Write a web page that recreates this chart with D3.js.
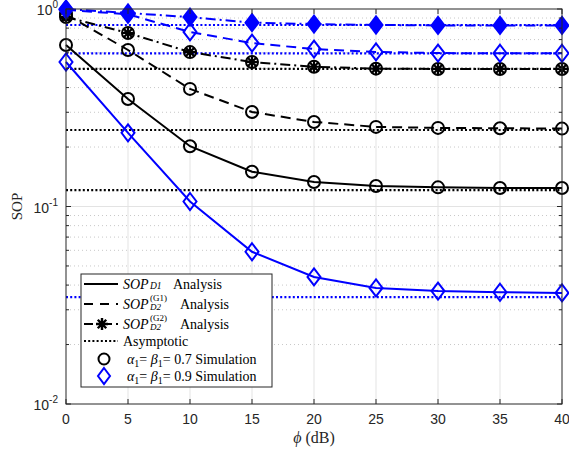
<!DOCTYPE html>
<html>
<head>
<meta charset="utf-8">
<script src="https://cdn.jsdelivr.net/npm/d3@7"></script>
<style>
  html, body { margin: 0; padding: 0; background: #fff; }
  svg { display: block; }
  .sans { font-family: "Liberation Sans", Arial, Helvetica, sans-serif; }
  .serif { font-family: "Liberation Serif", "DejaVu Serif", serif; }
</style>
</head>
<body>
<svg id="chart" width="569" height="450"></svg>
<script>
// Secrecy outage probability versus phi (dB)
const phi = [0, 5, 10, 15, 20, 25, 30, 35, 40];

// alpha1 = beta1 = 0.7
const sopD1_a07   = [0.657, 0.350, 0.202, 0.150, 0.133, 0.127, 0.125, 0.124, 0.124];
const sopG1_a07   = [0.94, 0.620, 0.394, 0.301, 0.268, 0.253, 0.250, 0.249, 0.248];
const sopG2_a07   = [0.91, 0.756, 0.605, 0.539, 0.510, 0.499, 0.497, 0.497, 0.497];

// alpha1 = beta1 = 0.9
const sopD1_a09   = [0.539, 0.236, 0.106, 0.059, 0.044, 0.0387, 0.0373, 0.0368, 0.0365];
const sopG1_a09   = [0.99, 0.94, 0.765, 0.672, 0.627, 0.606, 0.598, 0.597, 0.597];
const sopG2_a09   = [1.0, 0.955, 0.91, 0.853, 0.839, 0.830, 0.826, 0.826, 0.826];

// asymptotic floors
const asymBlack = [0.497, 0.244, 0.121];
const asymBlue  = [0.830, 0.596, 0.0348];

const xTicks = [0, 5, 10, 15, 20, 25, 30, 35, 40];
const yDecades = [-2, -1, 0];

const svg = d3.select("#chart");
const pL = 66, pR = 562, pT = 9, pB = 404;

const x = d3.scaleLinear().domain([0, 40]).range([pL, pR]);
const y = d3.scaleLog().domain([0.01, 1]).range([pB, pT]);

const BLUE = "#0000ff";
const AXIS = "#262626";

// grid
const grid = svg.append("g");
const minor = [];
for (let d = -2; d < 0; d++) for (let k = 2; k <= 9; k++) minor.push(k * Math.pow(10, d));
grid.selectAll("line.minor").data(minor).join("line")
  .attr("x1", pL).attr("x2", pR)
  .attr("y1", d => y(d)).attr("y2", d => y(d))
  .attr("stroke", "#c8c8c8").attr("stroke-width", 1).attr("stroke-dasharray", "1,3");
grid.selectAll("line.maj").data([0.1]).join("line")
  .attr("x1", pL).attr("x2", pR)
  .attr("y1", d => y(d)).attr("y2", d => y(d))
  .attr("stroke", "#e3e3e3").attr("stroke-width", 1);
grid.selectAll("line.vx").data(xTicks.slice(1, -1)).join("line")
  .attr("x1", d => x(d)).attr("x2", d => x(d))
  .attr("y1", pT).attr("y2", pB)
  .attr("stroke", "#e3e3e3").attr("stroke-width", 1);

// asymptotes
const asym = svg.append("g");
function hline(v, color) {
  asym.append("line")
    .attr("x1", pL).attr("x2", pR)
    .attr("y1", y(v)).attr("y2", y(v))
    .attr("stroke", color).attr("stroke-width", 2.2).attr("stroke-dasharray", "2,2.2");
}
asymBlack.forEach(v => hline(v, "#000"));
asymBlue.forEach(v => hline(v, BLUE));

// curves
const line = d3.line().x((d, i) => x(phi[i])).y(d => y(d));
const curves = svg.append("g");
function curve(vals, color, dash) {
  curves.append("path").datum(vals)
    .attr("d", line).attr("fill", "none")
    .attr("stroke", color).attr("stroke-width", 2)
    .attr("stroke-dasharray", dash);
}
const DASH = "10,6", DASHDOT = "10,4,2,4";
curve(sopD1_a07, "#000", null);
curve(sopG1_a07, "#000", DASH);
curve(sopG2_a07, "#000", DASHDOT);
curve(sopD1_a09, BLUE, null);
curve(sopG1_a09, BLUE, DASH);
curve(sopG2_a09, BLUE, DASHDOT);

// markers
const mk = svg.append("g");
function star(r) {
  let p = "";
  for (let a = 0; a < 4; a++) {
    const t = a * Math.PI / 4;
    const dx = r * Math.cos(t), dy = r * Math.sin(t);
    p += `M${-dx},${-dy}L${dx},${dy}`;
  }
  return p;
}
const diamond = (w, h) => `M0,${-h}L${w},0L0,${h}L${-w},0Z`;
function circles(vals) {
  mk.selectAll(null).data(vals).join("circle")
    .attr("cx", (d, i) => x(phi[i])).attr("cy", d => y(d)).attr("r", 6)
    .attr("fill", "none").attr("stroke", "#000").attr("stroke-width", 2);
}
function starCircles(vals) {
  const g = mk.selectAll(null).data(vals).join("g")
    .attr("transform", (d, i) => `translate(${x(phi[i])},${y(d)})`);
  g.append("circle").attr("r", 6).attr("fill", "none").attr("stroke", "#000").attr("stroke-width", 2);
  g.append("path").attr("d", star(6)).attr("stroke", "#000").attr("stroke-width", 2.2).attr("fill", "none");
}
function diamonds(vals, filled) {
  mk.selectAll(null).data(vals).join("path")
    .attr("transform", (d, i) => `translate(${x(phi[i])},${y(d)})`)
    .attr("d", diamond(6.5, 8.5))
    .attr("fill", filled ? BLUE : "none")
    .attr("stroke", BLUE).attr("stroke-width", 2);
}
circles(sopD1_a07);
circles(sopG1_a07);
starCircles(sopG2_a07);
diamonds(sopD1_a09, false);
diamonds(sopG1_a09, false);
diamonds(sopG2_a09, true);

// axes frame and ticks (inward, all four sides)
const ax = svg.append("g").attr("stroke", AXIS).attr("stroke-width", 1);
ax.append("rect").attr("x", pL).attr("y", pT).attr("width", pR - pL).attr("height", pB - pT)
  .attr("fill", "none");
xTicks.forEach(t => {
  ax.append("line").attr("x1", x(t)).attr("x2", x(t)).attr("y1", pB).attr("y2", pB - 5);
  ax.append("line").attr("x1", x(t)).attr("x2", x(t)).attr("y1", pT).attr("y2", pT + 5);
});
yDecades.forEach(dk => {
  const yy = y(Math.pow(10, dk));
  ax.append("line").attr("x1", pL).attr("x2", pL + 5).attr("y1", yy).attr("y2", yy);
  ax.append("line").attr("x1", pR).attr("x2", pR - 5).attr("y1", yy).attr("y2", yy);
});
minor.forEach(m => {
  ax.append("line").attr("x1", pL).attr("x2", pL + 3).attr("y1", y(m)).attr("y2", y(m));
  ax.append("line").attr("x1", pR).attr("x2", pR - 3).attr("y1", y(m)).attr("y2", y(m));
});

// tick labels
const lab = svg.append("g").attr("class", "sans").attr("fill", AXIS).attr("font-size", 14);
lab.selectAll(null).data(xTicks).join("text")
  .attr("x", d => x(d)).attr("y", pB + 20).attr("text-anchor", "middle").text(d => d);
yDecades.forEach(dk => {
  const t = lab.append("text").attr("x", pL - 8).attr("y", y(Math.pow(10, dk)) + 6)
    .attr("text-anchor", "end");
  t.append("tspan").text("10");
  t.append("tspan").attr("dy", -7).attr("font-size", 10).text(dk);
});

// axis titles
svg.append("text").attr("class", "serif")
  .attr("transform", `translate(22,${(pT + pB) / 2}) rotate(-90)`)
  .attr("text-anchor", "middle").attr("font-size", 15)
  .attr("fill", AXIS).text("SOP");
const xt = svg.append("text").attr("class", "serif").attr("x", (pL + pR) / 2).attr("y", 443)
  .attr("text-anchor", "middle").attr("font-size", 16).attr("fill", AXIS);
xt.append("tspan").attr("font-style", "italic").text("ϕ");
xt.append("tspan").text(" (dB)");

// legend
const lg = svg.append("g").attr("class", "serif").attr("font-size", 14).attr("fill", "#000");
lg.append("rect").attr("x", 81).attr("y", 274).attr("width", 191).attr("height", 113)
  .attr("fill", "#fff").attr("stroke", AXIS).attr("stroke-width", 1);
const rows = [284, 304, 324, 341, 359, 376];
const lx1 = 84, lx2 = 118, tx = 123;
function sample(yy, color, dash) {
  lg.append("line").attr("x1", lx1).attr("x2", lx2).attr("y1", yy).attr("y2", yy)
    .attr("stroke", color).attr("stroke-width", 2).attr("stroke-dasharray", dash);
}
sample(rows[0], "#000", null);
sample(rows[1], "#000", "9,7");
sample(rows[2], "#000", "9,4,2,4");
sample(rows[3], "#000", "2,2.2");
lg.append("path").attr("transform", `translate(102,${rows[2]})`).attr("d", star(6))
  .attr("stroke", "#000").attr("stroke-width", 2.4);
lg.append("circle").attr("cx", 104).attr("cy", rows[4]).attr("r", 5.5)
  .attr("fill", "none").attr("stroke", "#000").attr("stroke-width", 2);
lg.append("path").attr("transform", `translate(104,${rows[5]})`).attr("d", diamond(6, 8))
  .attr("fill", "none").attr("stroke", BLUE).attr("stroke-width", 2);

function sopText(yy, sub, sup) {
  lg.append("text").attr("x", tx).attr("y", yy + 5).attr("font-style", "italic").text("SOP");
  const bx = tx + 27;
  if (sup) {
    lg.append("text").attr("x", bx).attr("y", yy - 3).attr("font-size", 9).text(sup);
    lg.append("text").attr("x", bx).attr("y", yy + 6).attr("font-size", 9)
      .attr("font-style", "italic").text(sub);
    lg.append("text").attr("x", 180).attr("y", yy + 5).text("Analysis");
  } else {
    lg.append("text").attr("x", bx).attr("y", yy + 5).attr("font-size", 9.5)
      .attr("font-style", "italic").text(sub);
    lg.append("text").attr("x", 173).attr("y", yy + 5).text("Analysis");
  }
}
sopText(rows[0], "D1", null);
sopText(rows[1], "D2", "(G1)");
sopText(rows[2], "D2", "(G2)");
lg.append("text").attr("x", tx).attr("y", rows[3] + 5).text("Asymptotic");
function alphaText(yy, v) {
  const t = lg.append("text").attr("x", tx + 4).attr("y", yy + 5);
  t.append("tspan").attr("font-style", "italic").text("α");
  t.append("tspan").attr("dy", 3).attr("font-size", 10).text("1");
  t.append("tspan").attr("dy", -3).text("= ");
  t.append("tspan").attr("font-style", "italic").text("β");
  t.append("tspan").attr("dy", 3).attr("font-size", 10).text("1");
  t.append("tspan").attr("dy", -3).text("= " + v + " Simulation");
}
alphaText(rows[4], "0.7");
alphaText(rows[5], "0.9");
</script>
</body>
</html>
